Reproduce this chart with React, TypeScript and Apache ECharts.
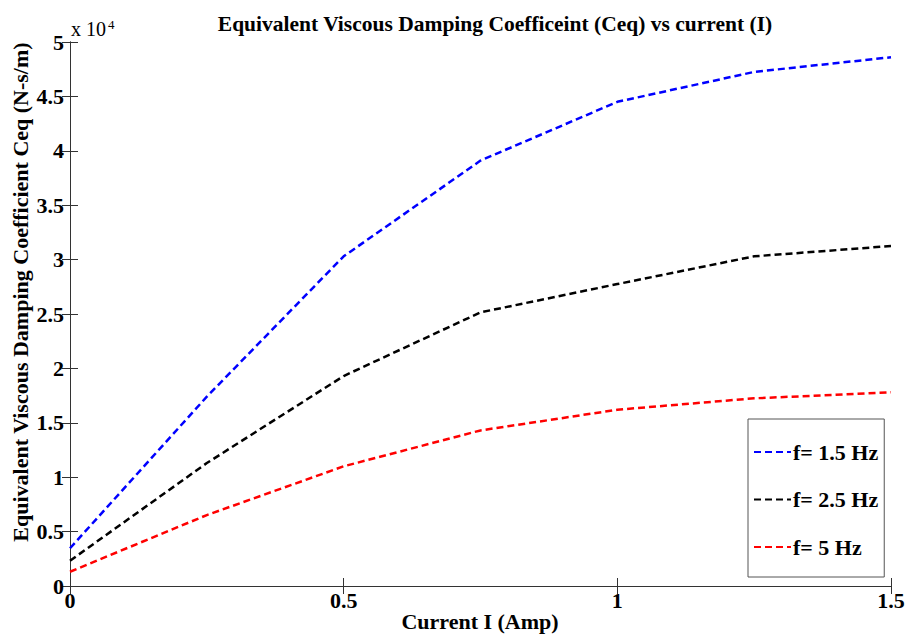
import React, { useEffect, useRef } from "react";
import * as echarts from "echarts";

const currents = [0, 0.25, 0.5, 0.75, 1, 1.25, 1.5];
const ceq15Hz = [3470, 17400, 30300, 39100, 44500, 47250, 48600];
const ceq25Hz = [2320, 11300, 19300, 25150, 27750, 30300, 31250];
const ceq5Hz = [1310, 6520, 11000, 14300, 16200, 17250, 17800];
const seriesNames = ["f= 1.5 Hz", "f= 2.5 Hz", "f= 5 Hz"];
const seriesColors = ["#0000ff", "#000000", "#ff0000"];

const FONT = "'Liberation Serif', 'Times New Roman', serif";

export default function App() {
  const ref = useRef<HTMLDivElement>(null);
  useEffect(() => {
    if (!ref.current) return;
    const chart = echarts.init(ref.current, undefined, { renderer: "svg" });
    const allData = [ceq15Hz, ceq25Hz, ceq5Hz];
    const axisLine = { show: true, lineStyle: { color: "#333333", width: 1 } };
    const axisTick = { show: true, inside: true, length: 8, lineStyle: { color: "#333333" } };
    chart.setOption({
      animation: false,
      backgroundColor: "#ffffff",
      title: {
        text: "Equivalent Viscous Damping Coefficeint (Ceq) vs current (I)",
        left: 490,
        textAlign: "center",
        top: 8,
        textStyle: { fontFamily: FONT, fontWeight: "bold", fontSize: 21.5, color: "#000" },
      },
      grid: {
        left: 70,
        top: 42,
        right: 17,
        bottom: 50,
        containLabel: false,
        outerBoundsMode: "none",
      },
      legend: {
        orient: "vertical",
        left: 748,
        top: 419,
        padding: [22, 6, 19, 5],
        itemGap: 25.5,
        itemWidth: 37,
        itemHeight: 14,
        backgroundColor: "#ffffff",
        borderColor: "#555555",
        borderWidth: 1,
        borderRadius: 0,
        data: seriesNames,
        itemStyle: { opacity: 0 },
        textStyle: {
          fontFamily: FONT,
          fontWeight: "bold",
          fontSize: 22,
          lineHeight: 22,
          color: "#000",
          padding: [0, 0, 0, -3],
        },
      },
      xAxis: [
        {
          type: "value",
          min: 0,
          max: 1.5,
          interval: 0.5,
          axisLine,
          axisTick,
          splitLine: { show: false },
          axisLabel: {
            fontFamily: FONT,
            fontWeight: "bold",
            fontSize: 22,
            color: "#000",
            margin: 3,
            formatter: (v: number) => String(v),
          },
        },
        {
          type: "value",
          position: "top",
          min: 0,
          max: 1.5,
          interval: 0.5,
          axisLine,
          axisTick,
          splitLine: { show: false },
          axisLabel: { show: false },
        },
      ],
      yAxis: [
        {
          type: "value",
          min: 0,
          max: 50000,
          interval: 5000,
          axisLine,
          axisTick,
          splitLine: { show: false },
          axisLabel: {
            fontFamily: FONT,
            fontWeight: "bold",
            fontSize: 22,
            color: "#000",
            margin: 6,
            formatter: (v: number) => String(v / 10000),
          },
        },
        {
          type: "value",
          position: "right",
          min: 0,
          max: 50000,
          interval: 5000,
          axisLine,
          axisTick,
          splitLine: { show: false },
          axisLabel: { show: false },
        },
      ],
      graphic: [
        {
          type: "text",
          x: 480,
          y: 621,
          style: {
            text: "Current I (Amp)",
            fontFamily: FONT,
            fontWeight: "bold",
            fontSize: 22,
            fill: "#000",
            align: "center",
            verticalAlign: "middle",
          },
        },
        {
          type: "text",
          x: 20,
          y: 292,
          rotation: Math.PI / 2,
          style: {
            text: "Equivalent Viscous Damping Coefficient Ceq (N-s/m)",
            fontFamily: FONT,
            fontWeight: "bold",
            fontSize: 22,
            fill: "#000",
            align: "center",
            verticalAlign: "middle",
          },
        },
        {
          type: "text",
          x: 71,
          y: 39,
          style: {
            text: "x 10",
            fontFamily: FONT,
            fontSize: 20,
            fill: "#000",
            align: "left",
            verticalAlign: "bottom",
          },
        },
        {
          type: "text",
          x: 108,
          y: 31,
          style: {
            text: "4",
            fontFamily: FONT,
            fontSize: 13,
            fill: "#000",
            align: "left",
            verticalAlign: "bottom",
          },
        },
      ],
      series: seriesNames.map((name, i) => ({
        name,
        type: "line",
        xAxisIndex: 0,
        yAxisIndex: 0,
        data: currents.map((c, j) => [c, allData[i][j]]),
        showSymbol: false,
        symbol: "none",
        color: seriesColors[i],
        lineStyle: { color: seriesColors[i], width: 2.5, type: [7, 4] },
      })),
    });
    return () => chart.dispose();
  }, []);
  return <div ref={ref} style={{ width: 908, height: 636, position: "absolute", left: 0, top: 0 }} />;
}
